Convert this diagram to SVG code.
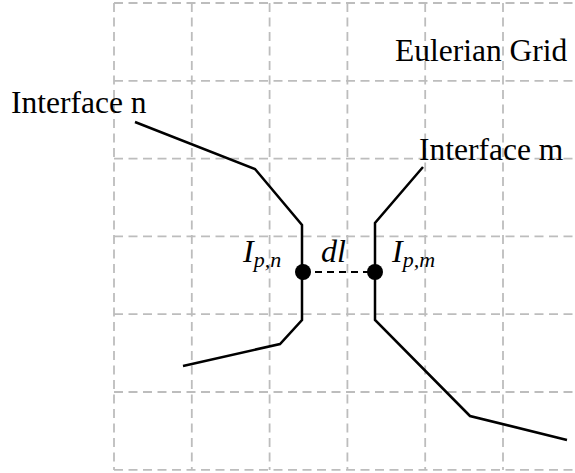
<svg xmlns="http://www.w3.org/2000/svg" width="575" height="473" viewBox="0 0 575 473">
<style>
.grid{stroke:#bdbdbd;stroke-width:1.8;stroke-dasharray:9,5.5;fill:none}
.iface{stroke:#000;stroke-width:2.5;fill:none;stroke-linejoin:miter}
.lbl{font-family:"Liberation Serif",serif;font-size:31.5px;fill:#000}
.it{font-family:"Liberation Serif",serif;font-style:italic;fill:#000}
</style>
<rect width="575" height="473" fill="#fff"/>
<g id="grid">
<path class="grid" d="M114 3V470M191.8 3V470M269.6 3V470M347.4 3V470M425.2 3V470M503 3V470"/>
<path class="grid" d="M114 3H580M114 80.8H580M114 158.6H580M114 236.4H580M114 314.2H580M114 392H580M114 469.8H580"/>
</g>
<g id="connectors">
<polyline id="interface-n" class="iface" points="135,122 255,169 302,225 302,320 280,344 183,366"/>
<polyline id="interface-m" class="iface" points="423,167 375,223 375,320 470,416 567,440"/>
<line id="dl-line" x1="303" y1="272" x2="375" y2="272" stroke="#000" stroke-width="2.2" stroke-dasharray="7,5"/>
</g>
<g id="point-n"><circle cx="303" cy="272" r="8" fill="#000"/></g>
<g id="point-m"><circle cx="375" cy="272" r="8" fill="#000"/></g>
<g id="labels">
<text class="lbl" x="11" y="113">Interface n</text>
<text class="lbl" x="395" y="61">Eulerian Grid</text>
<text class="lbl" x="419" y="160">Interface m</text>
<text class="it" x="243" y="262" font-size="32">I<tspan font-size="22" dy="5">p,n</tspan></text>
<text class="it" x="321" y="262" font-size="32">dl</text>
<text class="it" x="392" y="262" font-size="32">I<tspan font-size="22" dy="5">p,m</tspan></text>
</g>
</svg>
